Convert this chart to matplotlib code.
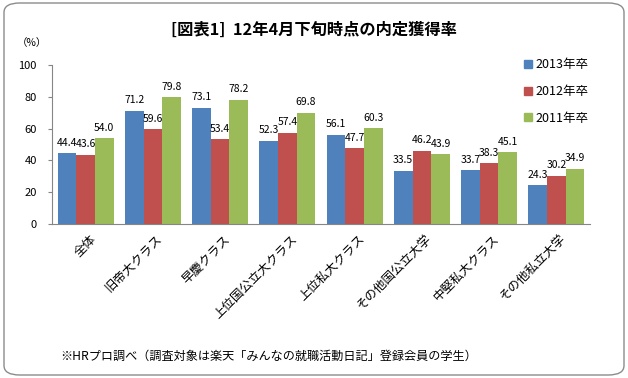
import numpy as np
import matplotlib
matplotlib.use("Agg")
import matplotlib.pyplot as plt
from matplotlib.patches import FancyBboxPatch, Patch

plt.rcParams['font.family'] = ['Noto Sans CJK JP', 'DejaVu Sans']

categories = ["全体", "旧帝大クラス", "早慶クラス", "上位国公立大クラス",
              "上位私大クラス", "その他国公立大学", "中堅私大クラス", "その他私立大学"]
y2013 = [44.4, 71.2, 73.1, 52.3, 56.1, 33.5, 33.7, 24.3]
y2012 = [43.6, 59.6, 53.4, 57.4, 47.7, 46.2, 38.3, 30.2]
y2011 = [54.0, 79.8, 78.2, 69.8, 60.3, 43.9, 45.1, 34.9]
series_names = ["2013年卒", "2012年卒", "2011年卒"]
colors = ["#4F81BD", "#C0504D", "#9BBB59"]

W, H = 628, 378
fig = plt.figure(figsize=(W / 100, H / 100), dpi=100)
# rounded frame around the chart
fig.patches.append(FancyBboxPatch((4 / W, 3 / H), 620 / W, 372 / H,
                                  boxstyle="round,pad=0,rounding_size=0.025",
                                  transform=fig.transFigure, fill=False,
                                  edgecolor="#8c8c8c", linewidth=1.0))

ax = fig.add_axes([52 / W, 1 - 224 / H, 538 / W, 159 / H])
x = np.arange(len(categories))
w = 0.278
for i, (vals, name, c) in enumerate(zip([y2013, y2012, y2011], series_names, colors)):
    pos = x + (i - 1) * w
    ax.bar(pos, vals, width=w, color=c, label=name)
    for p, v in zip(pos, vals):
        ax.annotate(f"{v:.1f}", (p, v), xytext=(0, 4), textcoords="offset points",
                    ha="center", va="bottom", fontsize=7.5)

ax.set_xlim(-0.5, len(categories) - 0.5)
ax.set_ylim(0, 100)
ax.set_yticks(range(0, 101, 20))
ax.tick_params(axis="y", labelsize=8, length=3, color="#868686", pad=8)
ax.tick_params(axis="x", length=0, pad=6)
ax.set_xticks(x + 0.05)
ax.set_xticklabels(categories, rotation=45, ha="right", rotation_mode="anchor", fontsize=9)
for s in ["top", "right"]:
    ax.spines[s].set_visible(False)
for s in ["left", "bottom"]:
    ax.spines[s].set_color("#868686")

title = fig.text(314 / W, 1 - 30 / H, "[図表1]  12年4月下旬時点の内定獲得率", ha="center",
                 va="center", fontsize=11, fontweight="bold")
fig.text(17 / W, 1 - 43 / H, "（%）", ha="left", va="center", fontsize=7.5)
note = fig.text(60 / W, 1 - 356 / H, "※HRプロ調べ（調査対象は楽天「みんなの就職活動日記」登録会員の学生）",
                ha="left", va="center", fontsize=9)

# fit title and note widths to the reference
r = fig.canvas.get_renderer()
for t, target in [(title, 285), (note, 417)]:
    bw = t.get_window_extent(r).width
    t.set_fontsize(t.get_fontsize() * target / bw)

handles = [Patch(color=c) for c in colors]
fig.legend(handles, series_names, loc="upper left", bbox_to_anchor=(513 / W, 1 - 47 / H),
           frameon=False, fontsize=9, handlelength=0.6, handleheight=0.6,
           handletextpad=0.3, labelspacing=1.1)

fig.savefig("out.png", dpi=100)
